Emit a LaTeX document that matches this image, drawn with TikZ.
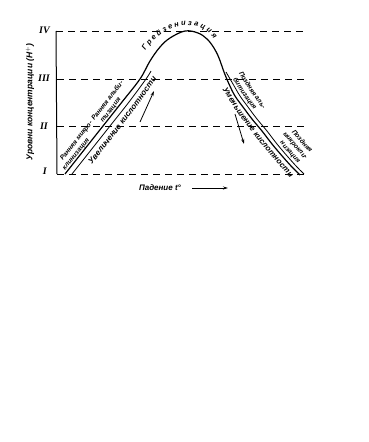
\documentclass[tikz,border=0pt]{standalone}
\usepackage{fontspec}
\setmainfont{Liberation Sans}
\newfontfamily\romfont{Liberation Serif}
\usetikzlibrary{decorations.text,arrows.meta}
\newcommand{\lf}{\fontsize{6.6}{6.6}\selectfont\bfseries\itshape}
\newcommand{\kf}{\fontsize{8}{8}\selectfont\bfseries\itshape}
\begin{document}
\begin{tikzpicture}[x=1pt,y=-1pt,
  lvl/.style={dash pattern=on 7pt off 5pt, line width=0.9pt},
  axis/.style={line width=1pt},
  crv/.style={line width=1.2pt},
  crvtwo/.style={line width=0.8pt},
  num/.style={font=\romfont\bfseries\itshape\fontsize{10}{10}\selectfont, inner sep=0pt, anchor=east},
  arr/.style={-{Stealth[length=5pt,width=3pt]}, line width=0.8pt},
  tl/.style n args={3}{postaction={decorate, decoration={text along path, raise=#1, text align={left indent=#2}, text={#3}}}},
  tr/.style n args={3}{postaction={decorate, decoration={text along path, raise=#1, text align={right, right indent=#2}, text={#3}}}}]
\useasboundingbox (0,0) rectangle (369,442);
% levels
\coordinate (l4a) at (56,31);  \coordinate (l4b) at (304,31);
\coordinate (l3a) at (57,79);  \coordinate (l3b) at (304,79);
\coordinate (l2a) at (57,126); \coordinate (l2b) at (304,126);
\coordinate (l1a) at (57,174); \coordinate (l1b) at (304,174);
\draw[axis] (l4a) -- (l1a);
\draw[lvl] (l4a) -- (l4b);
\draw[lvl] (l3a) -- (l3b);
\draw[lvl] (l2a) -- (l2b);
\draw[lvl] (l1a) -- (l1b);
\node[num] (n4) at (50,30) {IV};
\node[num] (n3) at (50,78) {III};
\node[num] (n2) at (48,126) {II};
\node[num] (n1) at (47,171) {I};
% axis labels
\node[font=\fontsize{8.5}{8.5}\selectfont\bfseries\itshape, rotate=90, inner sep=0pt] (ylab) at (30,102) {Уровни концентрации (H$^{+}$)};
\node[font=\fontsize{8}{8}\selectfont\bfseries\itshape, inner sep=0pt] (xlab) at (160,188) {Падение t°};
\coordinate (xa1) at (192,188); \coordinate (xa2) at (228,188);
\draw[arr] (xa1) -- (xa2);
% main curve
\draw[crv] plot[smooth, tension=0.6] coordinates {(65,174) (84,150) (103,126) (122,102) (140,79) (150,61) (160,47) (170,38) (185,31) (198,33) (207,39) (214,48) (219,58) (224,72) (229,84) (235,96) (243,107) (252,119) (262,131) (272,144) (283,157) (292,167) (300,175)};
% second lines
\draw[crvtwo] plot[smooth, tension=0.6] coordinates {(72,174) (91,150) (110,126) (129,102) (146,79) (151,71)};
\draw[crvtwo] plot[smooth, tension=0.6] coordinates {(226,72) (233,84) (240,96) (248,107) (257,119) (267,131) (277,144) (288,157) (297,167) (304,174)};
% top label
\path[decorate, decoration={text along path, text align=center,
  text={|\fontsize{7.5}{7.5}\selectfont\bfseries\itshape|Г р е й з е н и з а ц и я}}]
  (142,57) .. controls (160,20) and (205,15) .. (217,45);
% rising labels (outer side of main curve)
\path[tl={10.5pt}{9pt}{|\lf|Ранняя микро-}, tl={2.5pt}{3pt}{|\lf|клинизация},
      tl={10.5pt}{60pt}{|\lf|Ранняя альби-}, tl={2.5pt}{64pt}{|\lf|тизация}]
  (65,174) .. controls (85,151) and (120,105) .. (140,79);
% rising inner label
\path[tl={-9pt}{20pt}{|\kf|Увеличение кислотности}]
  (72,174) .. controls (92,151) and (130,102) .. (151,71);
\coordinate (ua1) at (140,122); \coordinate (ua2) at (154,91);
\draw[arr] (ua1) -- (ua2);
% falling inner label
\path[tl={-9pt}{14pt}{|\kf|Уменьшение кислотности}]
  (224,72) .. controls (236,100) and (272,145) .. (300,175);
\coordinate (da1) at (235,114); \coordinate (da2) at (244,144);
\draw[arr] (da1) -- (da2);
% falling outer labels
\path[tl={10.5pt}{8pt}{|\lf|Поздняя аль-}, tl={2.5pt}{10pt}{|\lf|битизация},
      tr={18.5pt}{12pt}{|\lf|Поздняя}, tr={10.5pt}{10pt}{|\lf|микрокли-}, tr={2.5pt}{12pt}{|\lf|низация}]
  (226,72) .. controls (240,100) and (277,145) .. (304,174);
\end{tikzpicture}
\end{document}
